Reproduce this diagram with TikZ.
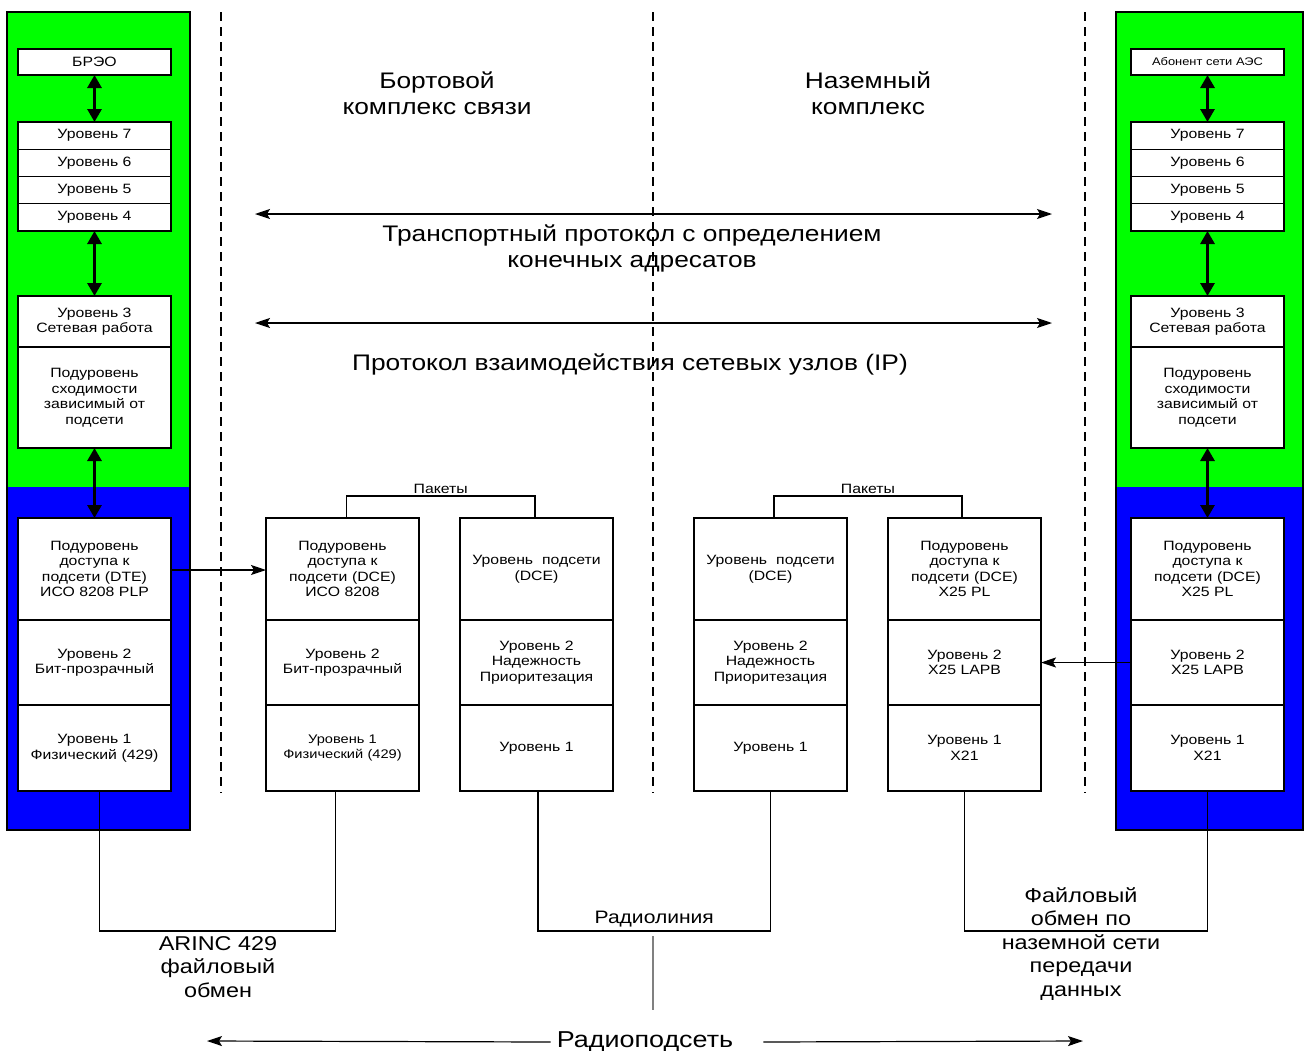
\documentclass[tikz,border=0pt]{standalone}
\usepackage{fontspec}
\setmainfont{Liberation Sans}[FakeStretch=1.17]
\usetikzlibrary{arrows.meta,positioning}

\definecolor{upgreen}{RGB}{0,255,0}
\definecolor{lowblue}{RGB}{0,0,255}

\tikzset{
  layer/.style = {draw, fill=white, line width=1.4pt, outer sep=0pt, inner sep=1pt,
    minimum width=153pt, text width=150pt, align=center,
    font=\fontsize{13.5}{15.5}\selectfont},
  bigarr/.style = {line width=3pt, {Triangle[length=13pt,width=14pt]}-{Triangle[length=13pt,width=14pt]}},
  arr/.style = {line width=1.2pt, -{Stealth[length=15pt,width=10pt,inset=3pt]}},
  dblarr/.style = {line width=1.2pt, {Stealth[length=15pt,width=10pt,inset=3pt]}-{Stealth[length=15pt,width=10pt,inset=3pt]}},
  wire/.style = {line width=1.4pt},
  bigtext/.style = {align=center, font=\fontsize{22.5}{26}\selectfont},
  midtext/.style = {align=center, font=\fontsize{20}{23.5}\selectfont},
  smalltext/.style = {font=\fontsize{13.5}{15}\selectfont}
}

\begin{document}
\begin{tikzpicture}[x=1pt, y=-1pt]
  \useasboundingbox (0,0) rectangle (1304,1050);

  % column backgrounds
  \fill[upgreen] (7,12) rectangle (190,487);
  \fill[lowblue] (7,487) rectangle (190,830);
  \draw[line width=1.4pt] (7,12) rectangle (190,830);
  \fill[upgreen] (1116,12) rectangle (1303,487);
  \fill[lowblue] (1116,487) rectangle (1303,830);
  \draw[line width=1.4pt] (1116,12) rectangle (1303,830);

  % dashed separators
  \foreach \x in {221,653,1085}
    \draw[line width=1.2pt, dash pattern=on 9pt off 6pt] (\x,12) -- (\x,793);

  % left stack
  \node[layer, minimum height=26pt, anchor=north west] (L0) at (18,49) {БРЭО};
  \node[layer, minimum height=27.25pt, anchor=north west] (L7) at (18,122) {Уровень 7};
  \foreach \i/\j in {6/7,5/6,4/5}
    \node[layer, minimum height=27.25pt, below=0pt of L\j] (L\i) {Уровень \i};
  \node[layer, minimum height=51pt, anchor=north west] (L3) at (18,296) {Уровень 3\\Сетевая работа};
  \node[layer, minimum height=101pt, below=0pt of L3] (Lc) {Подуровень\\сходимости\\зависимый от\\подсети};
  \node[layer, minimum height=102pt, anchor=north west] (La) at (18,518) {Подуровень\\доступа к\\подсети (DTE)\\ИСО 8208 PLP};
  \node[layer, minimum height=85pt, below=0pt of La] (Lb) {Уровень 2\\Бит-прозрачный};
  \node[layer, minimum height=86pt, below=0pt of Lb] (Lf) {Уровень 1\\Физический (429)};

  % right stack
  \node[layer, minimum height=26pt, anchor=north west, font=\fontsize{11}{13}\selectfont] (R0) at (1131,49) {Абонент сети АЭС};
  \node[layer, minimum height=27.25pt, anchor=north west] (R7) at (1131,122) {Уровень 7};
  \foreach \i/\j in {6/7,5/6,4/5}
    \node[layer, minimum height=27.25pt, below=0pt of R\j] (R\i) {Уровень \i};
  \node[layer, minimum height=51pt, anchor=north west] (R3) at (1131,296) {Уровень 3\\Сетевая работа};
  \node[layer, minimum height=101pt, below=0pt of R3] (Rc) {Подуровень\\сходимости\\зависимый от\\подсети};
  \node[layer, minimum height=102pt, anchor=north west] (Ra) at (1131,518) {Подуровень\\доступа к\\подсети (DCE)\\X25 PL};
  \node[layer, minimum height=85pt, below=0pt of Ra] (Rb) {Уровень 2\\X25 LAPB};
  \node[layer, minimum height=86pt, below=0pt of Rb] (Rf) {Уровень 1\\X21};

  % middle stacks
  \node[layer, minimum height=102pt, anchor=north west] (m1a) at (266,518) {Подуровень\\доступа к\\подсети (DCE)\\ИСО 8208};
  \node[layer, minimum height=85pt, below=0pt of m1a] (m1b) {Уровень 2\\Бит-прозрачный};
  \node[layer, minimum height=86pt, below=0pt of m1b, font=\fontsize{12.5}{14.5}\selectfont] (m1c) {Уровень 1\\Физический (429)};

  \node[layer, minimum height=102pt, anchor=north west] (m2a) at (460,518) {Уровень~ подсети\\(DCE)};
  \node[layer, minimum height=85pt, below=0pt of m2a] (m2b) {Уровень 2\\Надежность\\Приоритезация};
  \node[layer, minimum height=86pt, below=0pt of m2b] (m2c) {Уровень 1};

  \node[layer, minimum height=102pt, anchor=north west] (m3a) at (694,518) {Уровень~ подсети\\(DCE)};
  \node[layer, minimum height=85pt, below=0pt of m3a] (m3b) {Уровень 2\\Надежность\\Приоритезация};
  \node[layer, minimum height=86pt, below=0pt of m3b] (m3c) {Уровень 1};

  \node[layer, minimum height=102pt, anchor=north west] (m4a) at (888,518) {Подуровень\\доступа к\\подсети (DCE)\\X25 PL};
  \node[layer, minimum height=85pt, below=0pt of m4a] (m4b) {Уровень 2\\X25 LAPB};
  \node[layer, minimum height=86pt, below=0pt of m4b] (m4c) {Уровень 1\\X21};

  % arrows inside columns
  \draw[bigarr] (L0) -- (L7);
  \draw[bigarr] (L4) -- (L3);
  \draw[bigarr] (Lc) -- (La);
  \draw[bigarr] (R0) -- (R7);
  \draw[bigarr] (R4) -- (R3);
  \draw[bigarr] (Rc) -- (Ra);

  % side arrows
  \draw[arr] (La.east |- 0,570) -- (m1a.west |- 0,570);
  \draw[arr] (Rb.west) -- (m4b.east);

  % packets
  \draw[wire] ([xshift=4pt]m1a.north) -- ++(0,-22) -| node[smalltext, pos=0.25, above=-2pt] {Пакеты} ([xshift=-1.5pt]m2a.north);
  \draw[wire] ([xshift=3.5pt]m3a.north) -- ++(0,-22) -| node[smalltext, pos=0.25, above=-2pt] {Пакеты} ([xshift=-2.5pt]m4a.north);

  % lower links
  \draw[wire] ([xshift=5pt]Lf.south) -- ++(0,140) -| ([xshift=-7pt]m1c.south);
  \draw[wire] ([xshift=1.5pt]m2c.south) -- ++(0,140) -| node[pos=0.25, above, font=\fontsize{18}{21}\selectfont] {Радиолиния} (m3c.south);
  \draw[wire] (m4c.south) -- ++(0,140) -| (Rf.south);

  % titles
  \node[bigtext] (board) at (437,93) {Бортовой\\комплекс связи};
  \node[bigtext] (ground) at (868,93) {Наземный\\комплекс};

  % protocol arrows
  \coordinate (tpL) at (255,214);
  \coordinate (tpR) at (1052,214);
  \draw[dblarr] (tpL) -- (tpR);
  \node[bigtext] (tp) at (632,248) {Транспортный протокол с определением\\конечных адресатов};
  \coordinate (ipL) at (255,323);
  \coordinate (ipR) at (1052,323);
  \draw[dblarr] (ipL) -- (ipR);
  \node[bigtext] (ip) at (630,364) {Протокол взаимодействия сетевых узлов (IP)};

  % bottom labels
  \node[midtext] (arinc) at (218,967) {ARINC 429\\файловый\\обмен};
  \node[midtext] (file) at (1081,944) {Файловый\\обмен по\\наземной сети\\передачи\\данных};
  \draw[line width=1.2pt, gray] (653,936) -- (653,1010);

  \node[bigtext, inner sep=6pt, font=\fontsize{23}{26}\selectfont] (rps) at (645,1042) {Радиоподсеть};
  \coordinate (rpsL) at (207,1041);
  \coordinate (rpsR) at (1083,1041);
  \draw[arr] (rps.west) -- (rpsL);
  \draw[arr] ([xshift=24pt]rps.east) -- (rpsR);
\end{tikzpicture}
\end{document}
